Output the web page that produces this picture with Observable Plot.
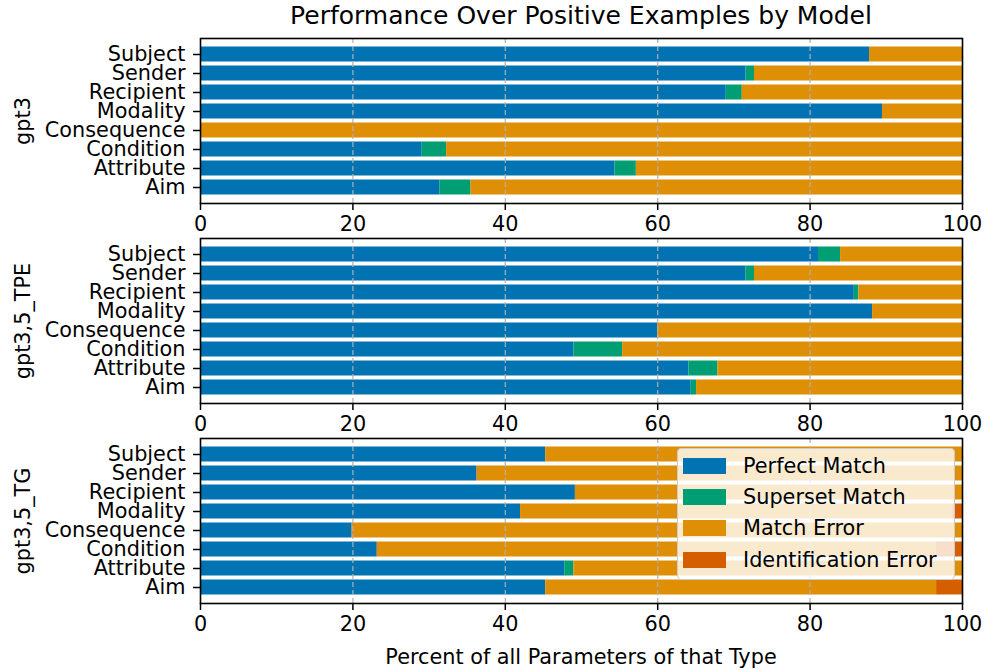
<!DOCTYPE html>
<html>
<head>
<meta charset="utf-8">
<script src="https://cdn.jsdelivr.net/npm/d3@7"></script>
<script src="https://cdn.jsdelivr.net/npm/@observablehq/plot@0.6"></script>
<style>
  body { margin: 0; background: #fff; }
  #wrap { position: relative; width: 984px; height: 670px; font-family: "DejaVu Sans", sans-serif; color: #000; }
  #title { position: absolute; left: 200px; width: 762px; top: 1px; text-align: center; font-size: 25px; line-height: 30px; }
  #xlabel { position: absolute; left: 200px; width: 762px; top: 645px; text-align: center; font-size: 20.8px; line-height: 24px; }
  #legend { position: absolute; left: 677px; top: 448px; width: 276px; height: 130px; background: rgba(255,255,255,0.8); border: 1px solid #cccccc; border-radius: 4px; }
  .li { position: absolute; left: 0; height: 24px; font-size: 20.8px; line-height: 24px; white-space: nowrap; }
  .sw { position: absolute; left: 5px; top: 4px; width: 43px; height: 16px; }
  .lt { position: absolute; left: 65px; top: 0; }
</style>
</head>
<body>
<div id="wrap">
  <div id="chart"></div>
  <div id="title">Performance Over Positive Examples by Model</div>
  <div id="xlabel">Percent of all Parameters of that Type</div>
  <div id="legend"></div>
</div>
<script>
const categories = ["Subject", "Sender", "Recipient", "Modality", "Consequence", "Condition", "Attribute", "Aim"];
const models = ["gpt3", "gpt3,5_TPE", "gpt3,5_TG"];
const types = ["Perfect Match", "Superset Match", "Match Error", "Identification Error"];
const colors = ["#0173b2", "#029e73", "#de8f05", "#d55e00"];
const xTicks = [0, 20, 40, 60, 80, 100];

// gpt3
const gpt3Perfect  = [87.8, 71.6, 69.0, 89.5, 0,    29.1, 54.4, 31.4];
const gpt3Superset = [0,    1.1,  2.1,  0,    0,    3.2,  2.8,  4.1];
const gpt3MatchErr = [12.2, 27.3, 28.9, 10.5, 100,  67.7, 42.8, 64.5];
const gpt3IdentErr = [0,    0,    0,    0,    0,    0,    0,    0];
// gpt3,5_TPE
const tpePerfect  = [81.1, 71.6, 85.8, 88.2, 60.0, 49.0, 64.1, 64.4];
const tpeSuperset = [2.9,  1.1,  0.6,  0,    0,    6.4,  3.8,  0.7];
const tpeMatchErr = [16.0, 27.3, 13.6, 11.8, 40.0, 44.6, 32.1, 34.9];
const tpeIdentErr = [0,    0,    0,    0,    0,    0,    0,    0];
// gpt3,5_TG
const tgPerfect  = [45.3, 36.3, 49.2, 42.0, 19.9, 23.2, 47.8, 45.3];
const tgSuperset = [0,    0,    0,    0,    0,    0,    1.2,  0];
const tgMatchErr = [54.7, 63.7, 50.8, 56.6, 80.1, 73.3, 51.0, 51.3];
const tgIdentErr = [0,    0,    0,    1.4,  0,    3.5,  0,    3.4];

const series = {
  "gpt3": [gpt3Perfect, gpt3Superset, gpt3MatchErr, gpt3IdentErr],
  "gpt3,5_TPE": [tpePerfect, tpeSuperset, tpeMatchErr, tpeIdentErr],
  "gpt3,5_TG": [tgPerfect, tgSuperset, tgMatchErr, tgIdentErr]
};

const rows = [];
for (const m of models) {
  categories.forEach((c, i) => {
    types.forEach((t, k) => {
      rows.push({model: m, cat: c, type: t, value: series[m][k][i]});
    });
  });
}

const chart = Plot.plot({
  width: 984,
  height: 670,
  marginLeft: 200,
  marginRight: 22,
  marginTop: 37.5,
  marginBottom: 67.3,
  style: {fontFamily: "DejaVu Sans, sans-serif", fontSize: "20.8px", color: "#000", background: "#fff"},
  x: {domain: [0, 100]},
  y: {domain: categories, paddingInner: 0.2, paddingOuter: 0.334},
  fy: {domain: models, paddingInner: 0.174, paddingOuter: 0, axis: null, label: null},
  color: {domain: types, range: colors},
  marks: [
    Plot.barX(rows, {x: "value", y: "cat", fy: "model", fill: "type"}),
    Plot.gridX({ticks: [20, 40, 60, 80], stroke: "#b0b0b0", strokeOpacity: 1, strokeWidth: 1.2, strokeDasharray: "5,3"}),
    Plot.frame({stroke: "#000", strokeWidth: 1.6}),
    Plot.axisX({ticks: xTicks, tickSize: 7, tickPadding: 6, strokeWidth: 1.5, label: null, facetAnchor: null, fontSize: 20.8}),
    Plot.axisY({tickSize: 7, tickPadding: 8, strokeWidth: 1.5, label: null, fontSize: 20.8}),
    Plot.text(models, {fy: d => d, text: d => d, frameAnchor: "left", textAnchor: "middle", rotate: -90, dx: -177, fontSize: 20.8})
  ]
});
document.getElementById("chart").appendChild(chart);

const legend = document.getElementById("legend");
types.forEach((t, k) => {
  const d = document.createElement("div");
  d.className = "li";
  d.style.top = (5 + k * 31.2) + "px";
  d.innerHTML = `<div class="sw" style="background:${colors[k]}"></div><div class="lt">${t}</div>`;
  legend.appendChild(d);
});
</script>
</body>
</html>
